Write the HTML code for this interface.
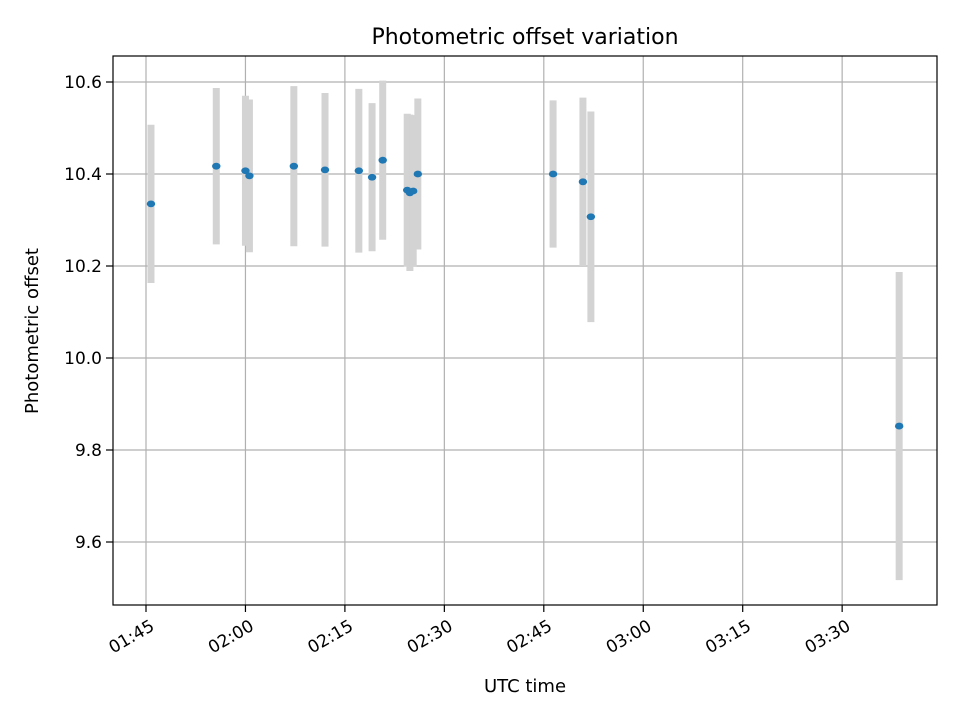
<!DOCTYPE html>
<html><head><meta charset="utf-8"><style>
body{margin:0;background:#fff}
svg text{font-family:"DejaVu Sans","Liberation Sans",sans-serif;fill:#000}
</style></head><body>
<svg id="chart" width="960" height="720">
<rect width="960" height="720" fill="#fff"/>
<g id="grid"></g><g id="errs"></g><g id="pts"></g><g id="axes"></g>
<text x="525" y="44" text-anchor="middle" font-size="22">Photometric offset variation</text>
<text x="525" y="692" text-anchor="middle" font-size="18">UTC time</text>
<text transform="translate(38,331) rotate(-90)" text-anchor="middle" font-size="18">Photometric offset</text>
</svg>
<script>
// minutes after 01:45 UTC
const times=[0.75,10.6,15.0,15.6,22.3,27.0,32.1,34.1,35.7,39.4,39.8,40.3,41.0,61.4,65.9,67.1,113.6];
const values=[10.335,10.417,10.407,10.396,10.417,10.409,10.407,10.393,10.430,10.365,10.359,10.363,10.400,10.400,10.383,10.307,9.852];
const errors=[0.172,0.170,0.163,0.166,0.174,0.167,0.178,0.161,0.173,0.166,0.170,0.165,0.164,0.160,0.183,0.229,0.335];
const xTicks=[0,15,30,45,60,75,90,105];
const xTickLabels=["01:45","02:00","02:15","02:30","02:45","03:00","03:15","03:30"];
const yTicks=[9.6,9.8,10.0,10.2,10.4,10.6];
const yTickLabels=["9.6","9.8","10.0","10.2","10.4","10.6"];
const L=113,R=937,T=56,B=605;
const X=t=>146+t*6.63;
const Y=v=>358-(v-10.0)*460;
const NS="http://www.w3.org/2000/svg";
function mk(p,tag,a){const e=document.createElementNS(NS,tag);for(const k in a)e.setAttribute(k,a[k]);p.appendChild(e);return e;}
const grid=document.getElementById('grid'),axes=document.getElementById('axes');
xTicks.forEach((t,i)=>{const x=X(t);
 const g=mk(grid,'line',{x1:x,x2:x,y1:T,y2:B,stroke:'#b0b0b0','stroke-width':1.2});
 
 
 mk(axes,'line',{x1:x,x2:x,y1:B,y2:B+7,stroke:'#000','stroke-width':1.2});
 const tx=mk(axes,'text',{transform:`translate(${x+3},${B+13}) rotate(-30)`,x:0,y:13,'text-anchor':'end','font-size':17});
 tx.textContent=xTickLabels[i];
 
 
});
yTicks.forEach((v,i)=>{const y=Y(v);
 const g=mk(grid,'line',{x1:L,x2:R,y1:y,y2:y,stroke:'#b0b0b0','stroke-width':1.2});
 
 
 mk(axes,'line',{x1:L-7,x2:L,y1:y,y2:y,stroke:'#000','stroke-width':1.2});
 const tx=mk(axes,'text',{x:L-11,y:y+6,'text-anchor':'end','font-size':17});
 tx.textContent=yTickLabels[i];
 
 
});
const frame=mk(axes,'rect',{x:L,y:T,width:R-L,height:B-T,fill:'none',stroke:'#000','stroke-width':1.2});


const errs=document.getElementById('errs'),pts=document.getElementById('pts');
times.forEach((t,i)=>{const x=X(t);
 const e=mk(errs,'line',{x1:x,x2:x,y1:Y(values[i]+errors[i]),y2:Y(values[i]-errors[i]),stroke:'#d3d3d3','stroke-width':7});
 
 
 const p=mk(pts,'ellipse',{cx:x,cy:Y(values[i]),rx:4.2,ry:3.4,fill:'#1f77b4'});
 
 
});
</script>
</body></html>
